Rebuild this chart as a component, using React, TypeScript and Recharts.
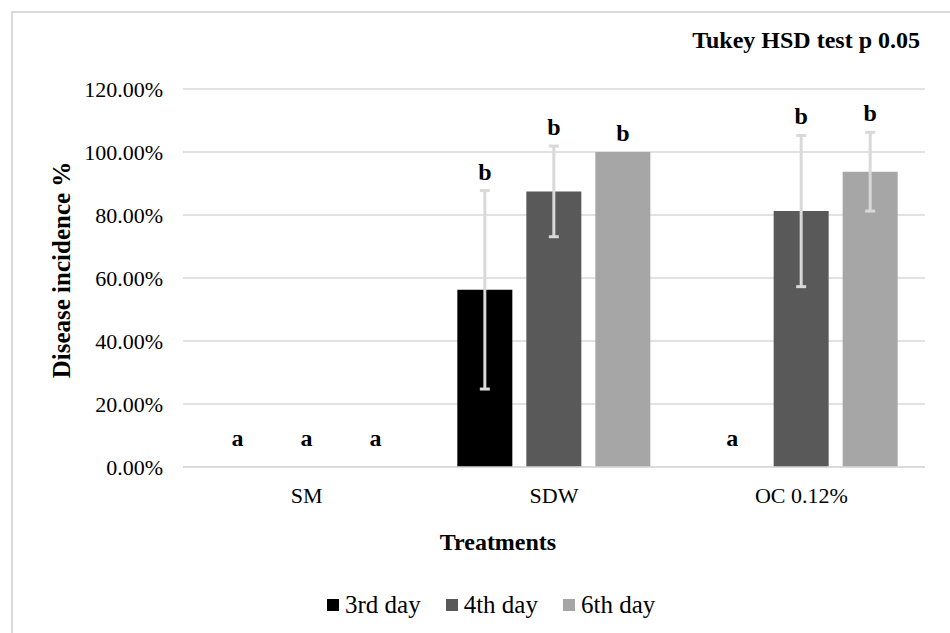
import React from 'react';
import {
  BarChart,
  Bar,
  Cell,
  XAxis,
  YAxis,
  CartesianGrid,
  ErrorBar,
  LabelList,
  Legend,
} from 'recharts';

const categories = ['SM', 'SDW', 'OC 0.12%'];

const day3 = [0, 56.25, 0];
const day4 = [0, 87.5, 81.25];
const day6 = [0, 100, 93.75];

const err3 = [0, 31.5, 0];
const err4 = [0, 14.4, 24];
const err6 = [0, 0, 12.5];

const letters3 = ['a', 'b', 'a'];
const letters4 = ['a', 'b', 'b'];
const letters6 = ['a', 'b', 'b'];

const yTicks = [0, 20, 40, 60, 80, 100, 120];

const seriesNames = ['3rd day', '4th day', '6th day'];
const colors = ['#000000', '#595959', '#a6a6a6'];

const data = categories.map((name, i) => ({
  name,
  d3: day3[i],
  d4: day4[i],
  d6: day6[i],
  e3: err3[i],
  e4: err4[i],
  e6: err6[i],
  l3: letters3[i],
  l4: letters4[i],
  l6: letters6[i],
}));

const FONT = '"Liberation Serif", "Times New Roman", serif';
const W = 950;
const H = 633;
const M = { top: 89, right: 25, bottom: 106, left: 0 };
const X_AXIS_H = 60;
const PLOT_H = H - M.top - M.bottom - X_AXIS_H;
const Y_MAX = 120;

// significance letter sits above the error bar (or above the axis for empty bars)
const makeLetter = (vals: number[], errs: number[]) => (props: any) => {
  const { x, width, value, index } = props;
  const v = vals[index] || 0;
  const err = errs[index] || 0;
  const base = M.top + PLOT_H - (v * PLOT_H) / Y_MAX;
  const top = base - (err * PLOT_H) / Y_MAX;
  const lift = v === 0 ? 21 : 11;
  return (
    <text
      x={x + width / 2}
      y={top - lift}
      textAnchor="middle"
      fontFamily={FONT}
      fontWeight="bold"
      fontSize={24}
      fill="#000"
    >
      {value}
    </text>
  );
};

const LegendContent = () => (
  <div
    style={{
      display: 'flex',
      alignItems: 'center',
      fontFamily: FONT,
      fontSize: 25,
      color: '#000',
      paddingLeft: 327,
    }}
  >
    {seriesNames.map((n, i) => (
      <div key={n} style={{ display: 'flex', alignItems: 'center', marginRight: 25 }}>
        <span
          style={{
            display: 'inline-block',
            width: 12,
            height: 12,
            background: colors[i],
            marginRight: 6,
          }}
        />
        <span>{n}</span>
      </div>
    ))}
  </div>
);

const series = [
  { key: 'd3', err: 'e3', lab: 'l3', vals: day3, errs: err3 },
  { key: 'd4', err: 'e4', lab: 'l4', vals: day4, errs: err4 },
  { key: 'd6', err: 'e6', lab: 'l6', vals: day6, errs: err6 },
];

export default function App() {
  return (
    <div
      style={{
        position: 'absolute',
        left: 0,
        top: 0,
        width: W,
        height: H,
        overflow: 'hidden',
        background: '#fff',
      }}
    >
      <div
        style={{
          position: 'absolute',
          left: 11,
          top: 11,
          width: 980,
          height: 660,
          border: '2px solid #d9d9d9',
        }}
      />
      <div
        style={{
          position: 'absolute',
          right: 30,
          top: 28,
          fontFamily: FONT,
          fontWeight: 'bold',
          fontSize: 24,
          lineHeight: '24px',
          color: '#000',
        }}
      >
        Tukey HSD test p 0.05
      </div>
      <div style={{ position: 'absolute', left: 0, top: 0 }}>
        <BarChart
          width={W}
          height={H}
          data={data}
          margin={M}
          barSize={55}
          barGap={14}
        >
          <CartesianGrid vertical={false} stroke="#d9d9d9" strokeWidth={1.5} />
          <XAxis
            dataKey="name"
            height={X_AXIS_H}
            tickSize={0}
            tickMargin={20}
            axisLine={{ stroke: '#d9d9d9', strokeWidth: 1.5 }}
            tick={{ fill: '#000', fontSize: 22, fontFamily: FONT }}
            label={{
              content: () => (
                <text
                  x={498}
                  y={550}
                  textAnchor="middle"
                  fontFamily={FONT}
                  fontWeight="bold"
                  fontSize={24}
                  fill="#000"
                >
                  Treatments
                </text>
              ),
            }}
          />
          <YAxis
            width={183}
            domain={[0, Y_MAX]}
            ticks={yTicks}
            interval={0}
            tickSize={0}
            tickMargin={20}
            axisLine={false}
            tickFormatter={(v: number) => v.toFixed(2) + '%'}
            tick={{ fill: '#000', fontSize: 22, fontFamily: FONT }}
            label={{
              content: () => (
                <text
                  transform="translate(70 270) rotate(-90)"
                  textAnchor="middle"
                  fontFamily={FONT}
                  fontWeight="bold"
                  fontSize={25}
                  fill="#000"
                >
                  Disease incidence %
                </text>
              ),
            }}
          />
          <Legend
            verticalAlign="middle"
            align="center"
            layout="horizontal"
            content={<LegendContent />}
            wrapperStyle={{ position: 'absolute', top: 591, left: 0, width: W }}
          />
          {series.map((s, si) => (
            <Bar
              key={s.key}
              dataKey={s.key}
              name={seriesNames[si]}
              fill={colors[si]}
              minPointSize={2}
              isAnimationActive={false}
            >
              {s.vals.map((v, i) => (
                <Cell key={i} fill={v === 0 ? 'transparent' : colors[si]} />
              ))}
              <ErrorBar dataKey={s.err} width={5} stroke="#d9d9d9" strokeWidth={3} />
              <LabelList dataKey={s.lab} content={makeLetter(s.vals, s.errs)} />
            </Bar>
          ))}
        </BarChart>
      </div>
    </div>
  );
}
